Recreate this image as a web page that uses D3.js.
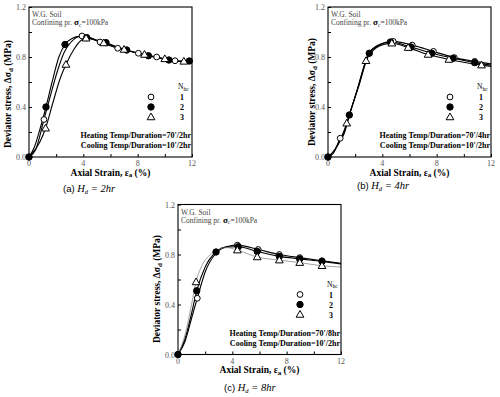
<!DOCTYPE html>
<html>
<head>
<meta charset="utf-8">
<script src="https://cdn.jsdelivr.net/npm/d3@7"></script>
<style>
  body { margin: 0; background: #fff; }
  svg { display: block; }
  text { font-family: "Liberation Serif", "DejaVu Serif", serif; }
</style>
</head>
<body>
<svg id="chart" width="500" height="397"></svg>
<script>
// tick labels
const strainTicks = [0, 4, 8, 12];
const stressTicks = [0, 0.4, 0.8, 1.2];
const nLabels = ['1', '2', '3'];

// (a) Hd = 2hr : [strain %, deviator stress MPa]
const a1 = [[0,0],[0.5,0.06],[1.1,0.30],[1.6,0.50],[2.1,0.69],[2.6,0.84],[3.1,0.92],[3.9,0.968],[4.5,0.955],[5.23,0.92],[6.53,0.87],[8.05,0.83],[9.4,0.80],[10.75,0.77],[12,0.765]];
const a2 = [[0,0],[0.4,0.08],[0.8,0.22],[1.25,0.40],[1.7,0.60],[2.2,0.80],[2.65,0.90],[3.2,0.95],[3.7,0.965],[4.25,0.955],[5.0,0.935],[5.67,0.915],[6.5,0.88],[7.19,0.856],[8.0,0.83],[8.79,0.81],[9.6,0.79],[10.3,0.776],[11.0,0.765],[11.8,0.768]];
const a3 = [[0,0],[0.8,0.12],[1.22,0.23],[1.8,0.45],[2.3,0.63],[2.72,0.74],[3.3,0.86],[3.8,0.93],[4.2,0.95],[5.5,0.912],[7.0,0.86],[8.5,0.82],[10.0,0.785],[11.4,0.765],[12,0.765]];
const a1Marks = [0, 1.1, 3.9, 5.23, 6.53, 8.05, 9.4, 10.75];
const a2Marks = [0, 1.25, 2.65, 4.25, 5.67, 7.19, 8.79, 10.3, 11.8];
const a3Marks = [1.22, 2.72, 4.2, 5.5, 7.0, 8.5, 10.0, 11.4];

// (b) Hd = 4hr
const b1 = [[0,0],[0.4,0.03],[0.9,0.15],[1.2,0.20],[1.55,0.33],[2.2,0.55],[3.0,0.83],[3.6,0.89],[4.2,0.915],[4.8,0.925],[6.2,0.895],[7.76,0.845],[9.3,0.795],[10.8,0.765],[12,0.745]];
const b2 = [[0,0],[0.4,0.04],[0.9,0.13],[1.2,0.19],[1.57,0.336],[2.3,0.58],[3.04,0.83],[3.7,0.89],[4.6,0.92],[6.1,0.88],[7.64,0.83],[9.2,0.79],[10.8,0.755],[12,0.735]];
const b3 = [[0,0],[0.5,0.06],[1.0,0.16],[1.38,0.27],[2.1,0.52],[2.8,0.77],[3.5,0.87],[4.3,0.905],[4.7,0.91],[5.9,0.875],[7.37,0.82],[8.9,0.78],[10.4,0.75],[11.3,0.735],[12,0.725]];
const b1Marks = [0, 0.9, 4.8, 6.2, 7.76, 9.3, 10.8];
const b2Marks = [0, 1.57, 3.04, 4.6, 6.1, 7.64, 9.2, 10.8];
const b3Marks = [1.38, 2.8, 4.7, 5.9, 7.37, 8.9, 11.3];

// (c) Hd = 8hr
const c1 = [[0,0],[0.5,0.10],[1.0,0.29],[1.42,0.45],[2.0,0.66],[2.8,0.81],[3.5,0.86],[4.37,0.875],[5.9,0.84],[7.46,0.80],[8.96,0.775],[10.6,0.75],[12,0.73]];
const c2 = [[0,0],[0.5,0.12],[1.0,0.33],[1.38,0.51],[2.0,0.70],[2.8,0.82],[3.5,0.86],[4.44,0.862],[5.83,0.825],[7.46,0.785],[8.96,0.765],[10.6,0.745],[12,0.725]];
const c3 = [[0,0],[0.5,0.15],[1.0,0.40],[1.33,0.58],[1.8,0.72],[2.4,0.80],[3.0,0.84],[3.6,0.855],[4.37,0.835],[5.83,0.78],[7.46,0.755],[8.96,0.735],[10.6,0.71],[12,0.70]];
const c1Marks = [0, 1.42, 4.37, 5.9, 7.46, 8.96, 10.6];
const c2Marks = [0, 1.38, 2.8, 4.44, 5.83, 7.46, 8.96, 10.6];
const c3Marks = [1.33, 4.37, 5.83, 7.46, 8.96, 10.6];

const panels = [
  { left: 29, top: 7, letter: '(a)', hd: '2hr', heat: "70'/2hr", cool: "10'/2hr",
    series: [[a1, a1Marks], [a2, a2Marks], [a3, a3Marks]], grey3: false,
    yLabX: 8, yLabY: 94, capX: 63, capY: 192 },
  { left: 328, top: 7, letter: '(b)', hd: '4hr', heat: "70'/4hr", cool: "10'/2hr",
    series: [[b1, b1Marks], [b2, b2Marks], [b3, b3Marks]], grey3: false,
    yLabX: 312, yLabY: 92, capX: 357, capY: 188.5 },
  { left: 178, top: 204.5, letter: '(c)', hd: '8hr', heat: "70'/8hr", cool: "10'/2hr",
    series: [[c1, c1Marks], [c2, c2Marks], [c3, c3Marks]], grey3: true,
    yLabX: 157, yLabY: 289, capX: 224, capY: 391 }
];

const W = 163, H = 150;
const svg = d3.select('#chart');

const x = d3.scaleLinear().domain([0, 12]).range([0, W]);
const y = d3.scaleLinear().domain([0, 1.2]).range([H, 0]);

const line = d3.line()
  .x(d => x(d[0]))
  .y(d => y(d[1]))
  .curve(d3.curveMonotoneX);

function marker(g, kind, cx, cy) {
  if (kind === 2) {
    g.append('path')
      .attr('d', d3.symbol(d3.symbolTriangle, 26)())
      .attr('transform', 'translate(' + cx + ',' + (cy + 0.5) + ')')
      .attr('fill', '#fff').attr('stroke', '#000').attr('stroke-width', 1);
  } else {
    g.append('circle')
      .attr('cx', cx).attr('cy', cy).attr('r', kind === 1 ? 3.2 : 2.9)
      .attr('fill', kind === 1 ? '#000' : '#fff')
      .attr('stroke', '#000').attr('stroke-width', 1);
  }
}

panels.forEach(p => {
  const g = svg.append('g').attr('transform', 'translate(' + p.left + ',' + p.top + ')');

  // inward ticks
  const yAxis = d3.axisRight(y).tickValues(d3.range(0, 1.21, 0.2)).tickSize(3).tickFormat('');
  const xAxis = d3.axisTop(x).tickValues(d3.range(0, 12.1, 2)).tickSize(3).tickFormat('');
  g.append('g').call(yAxis).call(s => s.select('.domain').remove())
    .selectAll('line').attr('stroke', '#000');
  g.append('g').attr('transform', 'translate(0,' + H + ')').call(xAxis)
    .call(s => s.select('.domain').remove())
    .selectAll('line').attr('stroke', '#000');

  // tick labels
  g.selectAll('.yt').data(stressTicks).enter().append('text')
    .attr('x', -3).attr('y', d => y(d) + 3)
    .attr('text-anchor', 'end').attr('font-size', 8).attr('fill', '#555')
    .text(d => d.toFixed(1));
  g.selectAll('.xt').data(strainTicks).enter().append('text')
    .attr('x', d => x(d)).attr('y', H + 9)
    .attr('text-anchor', 'middle').attr('font-size', 8).attr('fill', '#555')
    .text(d => d);

  // series
  p.series.forEach((s, i) => {
    const grey = p.grey3 && i === 2;
    g.append('path').datum(s[0])
      .attr('d', line).attr('fill', 'none')
      .attr('stroke', grey ? '#777' : '#000')
      .attr('stroke-width', grey ? 0.7 : 1.1);
  });
  p.series.forEach((s, i) => {
    s[0].filter(d => s[1].includes(d[0]))
      .forEach(d => marker(g, i === 0 ? 0 : (i === 1 ? 1 : 2), x(d[0]), y(d[1])));
  });

  // frame
  g.append('rect').attr('width', W).attr('height', H)
    .attr('fill', 'none').attr('stroke', '#000').attr('stroke-width', 1.1);

  // soil note
  g.append('text').attr('x', 3).attr('y', 10).attr('font-size', 7.5).attr('fill', '#444')
    .text('W.G. Soil');
  const cf = g.append('text').attr('x', 3).attr('y', 18).attr('font-size', 7.5).attr('fill', '#444');
  cf.append('tspan').text('Confining pr. ');
  cf.append('tspan').attr('font-weight', 'bold').attr('font-size', 9).attr('fill', '#000').text('σ');
  cf.append('tspan').attr('font-size', 6).attr('dy', 1.5).text('c');
  cf.append('tspan').attr('dy', -1.5).text('=100kPa');

  // legend
  const nh = g.append('text').attr('x', W - 14).attr('y', 82).attr('font-size', 7.5);
  nh.append('tspan').text('N');
  nh.append('tspan').attr('font-size', 5.5).attr('dy', 1.5).text('hc');
  nLabels.forEach((t, i) => {
    marker(g, i, W - 41, 90 + i * 10);
    g.append('text').attr('x', W - 10).attr('y', 93 + i * 10)
      .attr('font-size', 8).attr('font-weight', 'bold').attr('text-anchor', 'middle').text(t);
  });

  g.append('text').attr('x', W - 1).attr('y', 131).attr('text-anchor', 'end')
    .attr('font-size', 8).attr('font-weight', 'bold')
    .text('Heating Temp/Duration=' + p.heat);
  g.append('text').attr('x', W - 1).attr('y', 141).attr('text-anchor', 'end')
    .attr('font-size', 8).attr('font-weight', 'bold')
    .text('Cooling Temp/Duration=' + p.cool);

  // axis titles
  const xl = g.append('text').attr('x', W / 2).attr('y', H + 18.5)
    .attr('text-anchor', 'middle').attr('font-size', 9.5).attr('font-weight', 'bold');
  xl.append('tspan').text('Axial Strain, ε');
  xl.append('tspan').attr('font-size', 7).attr('dy', 1.5).text('a');
  xl.append('tspan').attr('dy', -1.5).text(' (%)');

  const yl = svg.append('text')
    .attr('transform', 'translate(' + (p.yLabX + 3) + ',' + p.yLabY + ') rotate(-90)')
    .attr('text-anchor', 'middle').attr('font-size', 9.5).attr('font-weight', 'bold');
  yl.append('tspan').text('Deviator stress, Δσ');
  yl.append('tspan').attr('font-size', 7).attr('dy', 2).text('d');
  yl.append('tspan').attr('dy', -2).text(' (MPa)');

  // caption
  const cap = svg.append('text').attr('x', p.capX).attr('y', p.capY);
  cap.append('tspan').attr('font-family', 'Liberation Sans, Arial, sans-serif')
    .attr('font-size', 9.5).text(p.letter + '  ');
  cap.append('tspan').attr('font-style', 'italic').attr('font-size', 10.5).text('H');
  cap.append('tspan').attr('font-style', 'italic').attr('font-size', 6.5).attr('dy', 2).text('d');
  cap.append('tspan').attr('font-style', 'italic').attr('font-size', 10.5).attr('dy', -2)
    .text(' = ' + p.hd);
});
</script>
</body>
</html>
